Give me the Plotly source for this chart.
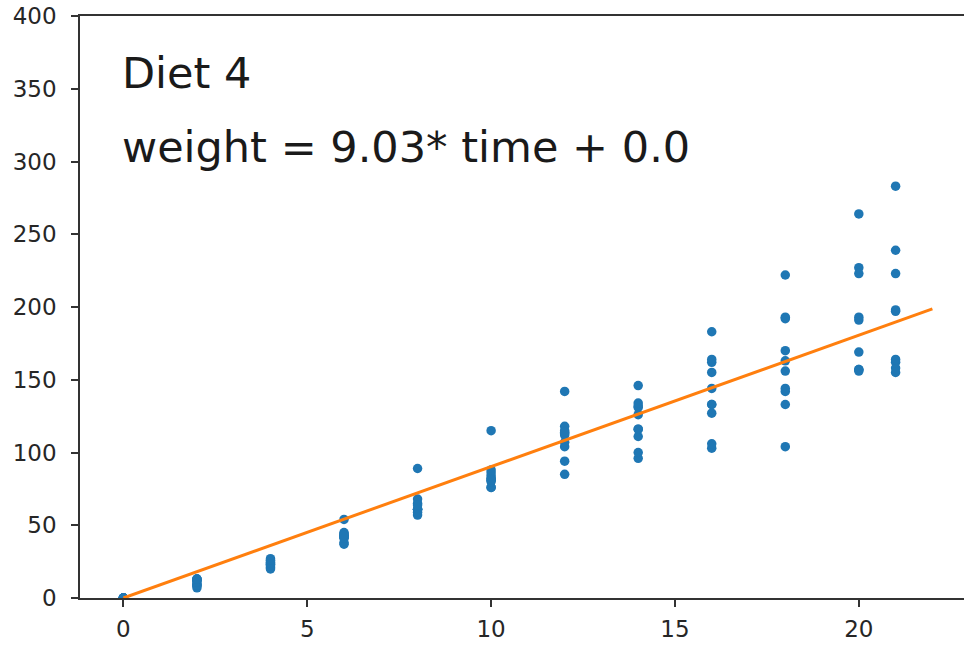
import plotly.graph_objects as go

# Diet 4 chick data: weight gain relative to day 0 (ChickWeight, chicks 41-50)
times = [0, 2, 4, 6, 8, 10, 12, 14, 16, 18, 20, 21]
chick41 = [0, 9, 24, 43, 61, 82, 113, 111, 133, 142, 157, 162]
chick42 = [0, 7, 21, 42, 61, 84, 118, 132, 162, 192, 227, 239]
chick43 = [0, 13, 27, 54, 89, 115, 142, 146, 155, 156, 157, 158]
chick44 = [0, 9, 23, 44, 61, 76, 85, 96, 103, 104]
chick45 = [0, 9, 20, 37, 57, 76, 94, 100, 106, 133, 156, 155]
chick46 = [0, 12, 22, 42, 61, 80, 104, 116, 133, 170, 191, 198]
chick47 = [0, 12, 25, 38, 59, 82, 107, 116, 127, 144, 169, 164]
chick48 = [0, 11, 23, 41, 65, 86, 115, 131, 183, 222, 264, 283]
chick49 = [0, 13, 24, 45, 68, 88, 112, 126, 144, 163, 193, 197]
chick50 = [0, 13, 26, 43, 64, 81, 114, 134, 164, 193, 223, 223]

slope = 9.03
intercept = 0.0
line_x = [0, 22]

title_text = "Diet 4"
eq_text = f"weight = {slope}* time + {intercept}"

x_ticks = [0, 5, 10, 15, 20]
y_ticks = [0, 50, 100, 150, 200, 250, 300, 350, 400]

chicks = [chick41, chick42, chick43, chick44, chick45,
          chick46, chick47, chick48, chick49, chick50]
xs, ys = [], []
for c in chicks:
    for t, w in zip(times, c):
        xs.append(t)
        ys.append(w)

line_y = [slope * v + intercept for v in line_x]

fig = go.Figure()
fig.add_trace(go.Scatter(
    x=xs, y=ys, mode="markers",
    marker=dict(color="#1f77b4", size=9.5, line=dict(width=0)),
    showlegend=False, cliponaxis=True,
))
fig.add_trace(go.Scatter(
    x=line_x, y=line_y, mode="lines",
    line=dict(color="#ff7f0e", width=3),
    showlegend=False,
))

font_family = "DejaVu Sans"
fig.add_annotation(x=0, y=350, xref="x", yref="y", text=title_text,
                   showarrow=False, xanchor="left", yanchor="bottom",
                   xshift=-3, yshift=-11,
                   font=dict(family=font_family, size=43, color="#1a1a1a"))
fig.add_annotation(x=0, y=300, xref="x", yref="y", text=eq_text,
                   showarrow=False, xanchor="left", yanchor="bottom",
                   xshift=-3, yshift=-13,
                   font=dict(family=font_family, size=43, color="#1a1a1a"))

axis_common = dict(
    showgrid=False, zeroline=False, showline=True, linecolor="#333333",
    linewidth=1.6, ticks="outside", ticklen=7, tickwidth=1.6,
    tickcolor="#333333", ticklabeloverflow="allow", automargin=False,
    tickfont=dict(family=font_family, size=23, color="#262626"),
)

fig.update_layout(
    width=964, height=645,
    margin=dict(l=80, r=0, t=16, b=47),
    paper_bgcolor="white", plot_bgcolor="white",
    xaxis=dict(range=[-1.18, 22.86], tickvals=x_ticks, mirror=True,
               ticklabelstandoff=3, **axis_common),
    yaxis=dict(range=[0, 400], tickvals=y_ticks, mirror=False,
               ticklabelstandoff=10, **axis_common),
)

fig.write_html("out.html",
               config={"displayModeBar": False},
               post_script="document.body.style.margin='0';")
